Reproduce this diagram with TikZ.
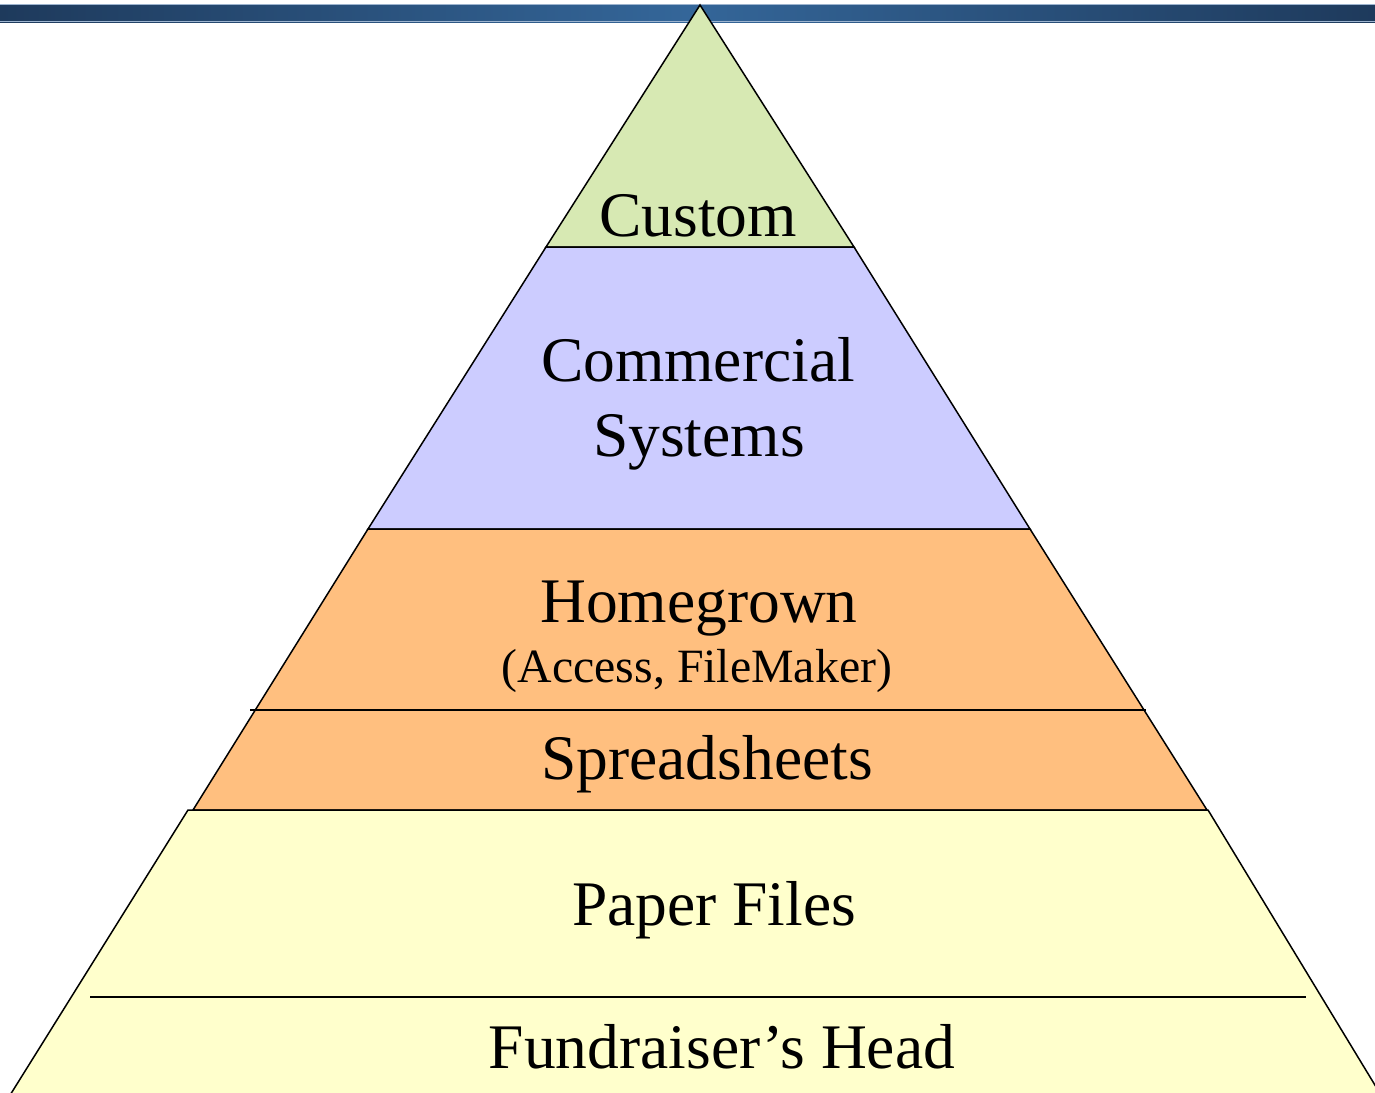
\documentclass[tikz,border=0pt]{standalone}
\usepackage{fontspec}
\setmainfont{Liberation Serif}
\usetikzlibrary{positioning}

\definecolor{tipgreen}{HTML}{D7E9B3}
\definecolor{lavender}{HTML}{CCCCFF}
\definecolor{apricot}{HTML}{FFBF7F}
\definecolor{paleyellow}{HTML}{FFFFCC}
\definecolor{bardark}{HTML}{1E3A5C}
\definecolor{barmid}{HTML}{346699}
\definecolor{barlight}{HTML}{9DB4CF}

\begin{document}
\begin{tikzpicture}[
		x=0.5pt, y=-0.5pt,
		% Define Layer Styles
		layer/.style={draw=black, line width=0.75pt, line join=miter},
		divider/.style={draw=black, line width=1.3pt},
		tiertext/.style={anchor=base, inner sep=0pt, font=\fontsize{31.75}{38}\selectfont},
		subtext/.style={tiertext, font=\fontsize{23.9}{28}\selectfont}
		]
		\useasboundingbox (0,0) rectangle (1375,1092);

		% Title bar
		\shade[left color=bardark, right color=bardark, middle color=barmid] (0,4) rectangle (1375,22);
		\draw[barlight, line width=0.6pt] (0,4.6) -- (1375,4.6);
		\draw[barlight, line width=0.6pt] (0,21.4) -- (1375,21.4);

		% Pyramid layers, top to bottom
		\filldraw[layer, fill=tipgreen] (700,5) -- (854,247) -- (546,247) -- cycle;
		\filldraw[layer, fill=lavender] (546,247) -- (854,247) -- (1030,529) -- (368,529) -- cycle;
		\filldraw[layer, fill=apricot] (368,529) -- (1030,529) -- (1207,810) -- (193,810) -- cycle;
		\filldraw[layer, fill=paleyellow] (188,810) -- (1208,810) -- (1384,1100) -- (7,1100) -- cycle;

		% Dividers inside the layers
		\draw[divider] (250,710) -- (1146,710);
		\draw[divider] (90,997) -- (1306,997);

		% Nodes
		\node[tiertext] (custom) at (698,236) {Custom};
		\node[tiertext] (commercial) at (698,381) {Commercial};
		\node[tiertext] (systems) at (699,456) {Systems};
		\node[tiertext] (homegrown) at (699,622) {Homegrown};
		\node[subtext] (tools) at (697,682) {(Access, FileMaker)};
		\node[tiertext] (spread) at (707,779) {Spreadsheets};
		\node[tiertext] (paper) at (714,925) {Paper Files};
		\node[tiertext] (head) at (722,1068) {Fundraiser’s Head};

	\end{tikzpicture}
\end{document}
